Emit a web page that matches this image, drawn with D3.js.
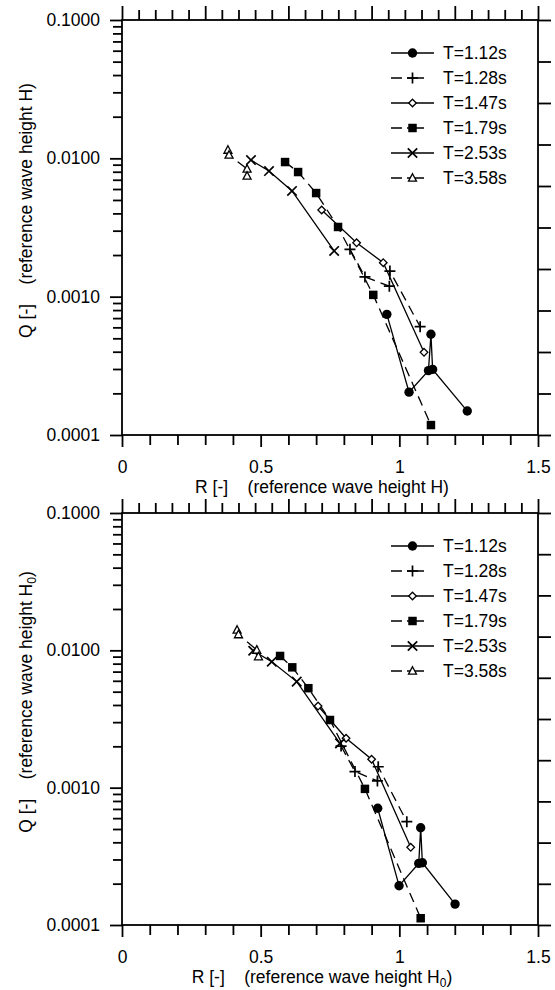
<!DOCTYPE html>
<html>
<head>
<meta charset="utf-8">
<script src="https://cdn.jsdelivr.net/npm/d3@7"></script>
<style>
  body { margin: 0; background: #fff; }
  svg text { font-family: "Liberation Sans", Arial, sans-serif; font-size: 17.5px; fill: #000; }
  .title { white-space: pre; }
</style>
</head>
<body>
<svg id="chart" width="555" height="990"></svg>
<script>
// wave periods (legend), line type and marker per series
const periods = ["T=1.12s", "T=1.28s", "T=1.47s", "T=1.79s", "T=2.53s", "T=3.58s"];
const dashed = [false, true, false, true, false, true];
const markers = ["circle", "plus", "diamond", "square", "cross", "triangle"];

// upper panel: reference wave height H
const topR = [
  [0.955, 1.035, 1.105, 1.114, 1.120, 1.245],
  [0.822, 0.876, 0.964, 0.966, 1.075],
  [0.720, 0.846, 0.942, 1.089],
  [0.588, 0.635, 0.700, 0.779, 0.906, 1.114],
  [0.465, 0.530, 0.613, 0.765],
  [0.382, 0.386, 0.451, 0.451]
];
const topQ = [
  [0.000745, 0.000204, 0.000292, 0.000535, 0.000298, 0.000149],
  [0.00220, 0.00139, 0.00119, 0.00153, 0.000607],
  [0.00423, 0.00245, 0.00176, 0.000396],
  [0.0094, 0.00796, 0.00561, 0.00319, 0.00103, 0.000118],
  [0.00972, 0.00809, 0.00581, 0.00214],
  [0.01148, 0.01057, 0.00837, 0.00745]
];

// lower panel: reference wave height H0
const botR = [
  [0.922, 0.999, 1.070, 1.077, 1.083, 1.201],
  [0.790, 0.840, 0.921, 0.924, 1.027],
  [0.707, 0.808, 0.900, 1.041],
  [0.570, 0.614, 0.672, 0.750, 0.876, 1.077],
  [0.473, 0.540, 0.630, 0.786],
  [0.415, 0.420, 0.486, 0.492]
];
const botQ = [
  [0.000708, 0.000193, 0.000281, 0.000511, 0.000284, 0.000142],
  [0.00201, 0.00131, 0.00112, 0.00142, 0.000565],
  [0.00393, 0.00229, 0.00161, 0.000368],
  [0.0091, 0.00752, 0.0053, 0.00311, 0.00098, 0.000112],
  [0.00993, 0.00826, 0.00592, 0.00210],
  [0.01406, 0.01303, 0.01005, 0.0090]
];

const xTicks = [0, 0.5, 1, 1.5];
const yTicks = [0.0001, 0.001, 0.01, 0.1];

const svg = d3.select("#chart");
const x = d3.scaleLinear().domain([0, 1.5]).range([122, 538]);

function markerPath(kind) {
  if (kind === "circle") return d3.symbol(d3.symbolCircle, 69)();
  if (kind === "square") return d3.symbol(d3.symbolSquare, 72)();
  if (kind === "plus") return "M-5.5,0H5.5M0,-5.5V5.5";
  if (kind === "cross") return "M-4.7,-4.7L4.7,4.7M-4.7,4.7L4.7,-4.7";
  if (kind === "diamond") return "M0,-3.8L3.8,0L0,3.8L-3.8,0Z";
  return "M0,-4.3L4,3.2L-4,3.2Z";
}

function styleMarker(sel, kind) {
  const filled = kind === "circle" || kind === "square";
  const open = kind === "diamond" || kind === "triangle";
  sel.attr("d", markerPath(kind))
    .attr("fill", filled ? "#000" : open ? "#fff" : "none")
    .attr("stroke", "#000")
    .attr("stroke-width", filled ? 0 : open ? 1.3 : 1.7);
}

function styleAxis(g) {
  g.select(".domain").remove();
  g.selectAll(".tick line").attr("stroke", "#000").attr("stroke-width", 1.8);
  g.selectAll(".tick text").attr("fill", "#000").attr("font-size", null).attr("font-family", null);
}

function drawPanel(top, bottom, R, Q, withSub) {
  const y = d3.scaleLog().domain([0.0001, 0.1]).range([bottom, top]);
  const g = svg.append("g");

  // left: log axis, decade labels plus minor ticks
  const minors = [];
  yTicks.slice(0, 3).forEach(d => d3.range(2, 10).forEach(k => minors.push(d * k)));
  g.append("g").attr("transform", "translate(122,0)")
    .call(d3.axisLeft(y).tickValues(minors).tickSize(9).tickFormat(""))
    .call(styleAxis);
  g.append("g").attr("transform", "translate(122,0)")
    .call(d3.axisLeft(y).tickValues(yTicks).tickSize(12).tickPadding(10).tickFormat(d3.format(".4f")))
    .call(styleAxis);

  // bottom axis
  g.append("g").attr("transform", `translate(0,${bottom})`)
    .call(d3.axisBottom(x).tickValues(d3.range(1, 15).filter(i => i % 5).map(i => i / 10)).tickSize(10).tickFormat(""))
    .call(styleAxis);
  g.append("g").attr("transform", `translate(0,${bottom})`)
    .call(d3.axisBottom(x).tickValues(xTicks).tickSize(12).tickPadding(14).tickFormat(d => String(d)))
    .call(styleAxis);

  // top and right axes carry only ticks
  const xt = d3.scaleLinear().domain([0, 25]).range([122, 538]);
  g.append("g").attr("transform", `translate(0,${top})`)
    .call(d3.axisTop(xt).tickValues(d3.range(0, 26).filter(i => i % 5)).tickSize(10).tickFormat(""))
    .call(styleAxis);
  g.append("g").attr("transform", `translate(0,${top})`)
    .call(d3.axisTop(xt).tickValues(d3.range(0, 26, 5)).tickSize(14).tickFormat(""))
    .call(styleAxis);
  const yr = d3.scaleLinear().domain([0, 10]).range([bottom, top]);
  g.append("g").attr("transform", "translate(538,0)")
    .call(d3.axisRight(yr).tickValues(d3.range(0, 11)).tickSize(13).tickFormat(""))
    .call(styleAxis);

  g.append("rect").attr("x", 122).attr("y", top).attr("width", 416).attr("height", bottom - top)
    .attr("fill", "none").attr("stroke", "#000").attr("stroke-width", 1.8);

  // series lines, then markers
  const line = d3.line().x(d => x(d[0])).y(d => y(d[1]));
  periods.forEach((p, i) => {
    const pts = R[i].map((r, j) => [r, Q[i][j]]);
    g.append("path").attr("d", line(pts)).attr("fill", "none")
      .attr("stroke", "#000").attr("stroke-width", 1.3)
      .attr("stroke-dasharray", dashed[i] ? "10,6" : null);
  });
  periods.forEach((p, i) => {
    const pts = R[i].map((r, j) => [r, Q[i][j]]);
    g.selectAll(null).data(pts).join("path")
      .attr("transform", d => `translate(${x(d[0])},${y(d[1])})`)
      .call(styleMarker, markers[i]);
  });

  // legend
  const lg = g.append("g").attr("transform", `translate(0,${top + 33})`);
  periods.forEach((p, i) => {
    const row = lg.append("g").attr("transform", `translate(0,${i * 25})`);
    row.append("line").attr("x1", 391).attr("x2", 434)
      .attr("stroke", "#000").attr("stroke-width", 1.3)
      .attr("stroke-dasharray", dashed[i] ? "11,5,17,100" : null);
    row.append("path").attr("transform", "translate(412.5,0)").call(styleMarker, markers[i]);
    row.append("text").attr("x", 443).attr("dy", "0.35em").text(p);
  });

  // axis titles
  const xt1 = g.append("text").attr("class", "title")
    .attr("x", 322).attr("y", bottom + 52).attr("dy", "0.35em").attr("text-anchor", "middle");
  const yt1 = g.append("text").attr("class", "title")
    .attr("transform", `translate(26,${(top + bottom) / 2 - 17}) rotate(-90)`)
    .attr("dy", "0.35em").attr("text-anchor", "middle");
  [[xt1, "R [-]    (reference wave height H"], [yt1, "Q [-]    (reference wave height H"]].forEach(([t, s]) => {
    if (withSub) {
      t.append("tspan").text(s);
      t.append("tspan").attr("font-size", "12px").attr("dy", 4).text("0");
      t.append("tspan").attr("dy", -4).text(")");
    } else {
      t.text(s + ")");
    }
  });
}

drawPanel(20, 435, topR, topQ, false);
drawPanel(513, 925, botR, botQ, true);
</script>
</body>
</html>
